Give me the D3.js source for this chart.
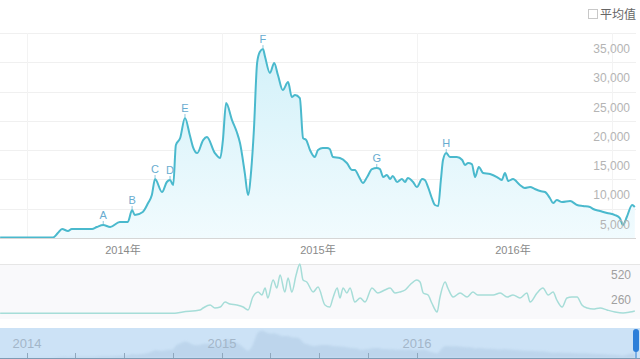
<!DOCTYPE html>
<html>
<head>
<meta charset="utf-8">
<script src="https://cdn.jsdelivr.net/npm/d3@7"></script>
<style>
	body { margin: 0; background: #fff; }
	svg { display: block; font-family: "Liberation Sans", "Noto Sans CJK SC", sans-serif; }
</style>
</head>
<body>
<svg id="canvas" width="640" height="359"></svg>
<script>

// search index (main chart)
var indexDates = ["2013-05-16","2013-08-23","2013-09-01","2013-09-09","2013-09-20","2013-09-27","2013-11-04","2013-11-13","2013-11-25","2013-12-08","2013-12-26",
	"2014-01-10","2014-01-18","2014-01-23","2014-02-07","2014-02-17","2014-02-24","2014-03-02","2014-03-15","2014-03-24","2014-03-30","2014-04-05","2014-04-10","2014-04-18","2014-04-27",
	"2014-05-06","2014-05-12","2014-05-20","2014-05-31","2014-06-07","2014-06-22","2014-07-02","2014-07-07","2014-07-13","2014-07-24","2014-08-02","2014-08-08","2014-08-17","2014-08-23","2014-08-29",
	"2014-09-03","2014-09-09","2014-09-14","2014-09-20","2014-09-24","2014-10-03","2014-10-11","2014-10-18","2014-10-27","2014-11-06","2014-11-13","2014-11-19","2014-11-28","2014-12-04","2014-12-10","2014-12-17","2014-12-26",
	"2015-01-01","2015-01-10","2015-01-18","2015-01-23","2015-01-29","2015-02-11","2015-02-24","2015-03-06","2015-03-11","2015-03-19","2015-03-26","2015-04-03","2015-04-12","2015-04-21","2015-04-27",
	"2015-05-03","2015-05-10","2015-05-16","2015-05-21","2015-05-29","2015-06-07","2015-06-13","2015-06-18","2015-06-28","2015-07-05","2015-07-15","2015-07-20","2015-07-26","2015-08-02","2015-08-08","2015-08-14","2015-08-19","2015-08-23","2015-08-29",
	"2015-09-05","2015-09-18","2015-09-28","2015-10-03","2015-10-09","2015-10-16","2015-10-22","2015-10-29","2015-11-06","2015-11-19","2015-12-02","2015-12-11","2015-12-17","2015-12-23",
	"2016-01-01","2016-01-14","2016-01-23","2016-02-02","2016-02-11","2016-02-21","2016-03-01","2016-03-10","2016-03-16","2016-03-23","2016-04-02","2016-04-17","2016-04-30","2016-05-11","2016-05-24","2016-05-30",
	"2016-06-12","2016-06-25","2016-07-10","2016-07-19","2016-07-25","2016-08-01","2016-08-11","2016-08-16"];
var indexValues = [100,100,850,1540,1190,1540,1540,1880,2220,1880,2730,
	2730,4780,3920,4440,5970,7340,10070,7850,9560,9900,9040,15870,17070,20480,
	17580,15530,14500,16720,17240,14500,13650,16720,23040,20140,18090,16210,11090,7340,11600,
	18430,29860,31740,32250,30890,28160,29860,27820,25260,26620,24060,24400,23890,17070,16720,15020,13820,
	15020,15360,15360,15190,13820,13650,12800,11600,11600,10410,9390,10410,11770,11950,11770,
	10410,10750,10070,10580,9560,10070,9560,10240,9560,8700,10070,9900,8700,6830,5630,5460,9900,13310,14500,
	13820,13820,13310,12460,12800,12630,10410,12120,11090,10920,10410,9900,11090,9730,
	10070,9040,8530,8700,8360,8020,7850,6830,5970,6480,6140,6310,5630,5460,5290,4950,
	4610,4270,3920,3410,2220,3580,5630,5290];

// media index (lower chart)
var mediaDates = ["2013-05-16","2014-04-08","2014-04-23","2014-05-25","2014-05-31","2014-06-13","2014-06-22","2014-07-02","2014-07-11","2014-07-20","2014-08-02","2014-08-14","2014-08-23",
	"2014-09-01","2014-09-11","2014-09-18","2014-09-24","2014-09-29","2014-10-09","2014-10-16","2014-10-22","2014-10-31","2014-11-06","2014-11-13","2014-11-21","2014-11-28","2014-12-04","2014-12-11","2014-12-23",
	"2015-01-01","2015-01-14","2015-01-23","2015-01-29","2015-02-06","2015-02-11","2015-02-17","2015-02-24","2015-03-02","2015-03-11","2015-03-21","2015-03-30","2015-04-12","2015-04-23",
	"2015-05-06","2015-05-16","2015-05-25","2015-06-03","2015-06-13","2015-06-22","2015-07-05","2015-07-11","2015-07-17","2015-07-26","2015-08-02","2015-08-12","2015-08-17","2015-08-27",
	"2015-09-01","2015-09-11","2015-09-24","2015-10-07","2015-10-18","2015-10-27","2015-11-10","2015-11-25","2015-12-08","2015-12-21",
	"2016-01-01","2016-01-14","2016-01-27","2016-02-02","2016-02-15","2016-02-26","2016-03-07","2016-03-16","2016-03-23","2016-04-02","2016-04-11","2016-04-20","2016-04-30",
	"2016-05-09","2016-05-19","2016-05-30","2016-06-12","2016-06-25","2016-07-10","2016-07-25","2016-08-07","2016-08-16"];
var mediaValues = [122,122,135,156,177,208,177,187,239,218,208,187,156,
	291,343,312,385,281,468,385,520,343,489,343,520,634,468,447,343,
	395,208,187,281,385,281,385,333,385,239,281,239,385,333,
	364,385,333,343,364,416,468,447,333,312,229,135,281,447,
	385,291,333,291,343,312,312,312,333,291,
	312,281,333,239,333,385,312,343,260,187,281,291,291,
	208,177,166,177,156,135,125,135,146];

var markLetters = ["A","B","C","D","E","F","G","H"];
var markDates = ["2013-11-25","2014-01-18","2014-03-02","2014-03-30","2014-04-27","2014-09-20","2015-04-21","2015-08-29"];

var yTicks = [5000, 10000, 15000, 20000, 25000, 30000, 35000];
var mediaTicks = [260, 520];
var yearTicks = ["2014-01-01", "2015-01-01", "2016-01-01"];
var gridDates = ["2013-07-01", "2014-07-01", "2015-07-01", "2016-07-01"];

var parse = d3.timeParse("%Y-%m-%d");

var indexData = indexDates.map(function(d, i) { return {date: parse(d), value: indexValues[i]}; });
var mediaData = mediaDates.map(function(d, i) { return {date: parse(d), value: mediaValues[i]}; });

var svg = d3.select("#canvas");

var x = d3.scaleTime()
	.domain([parse("2014-01-01"), parse("2016-01-01")])
	.range([123, 513]);

var y = d3.scaleLinear().domain([0, 35000]).range([238, 33]);
var y2 = d3.scaleLinear().domain([0, 520]).range([325, 275]);

var defs = svg.append("defs");
var grad = defs.append("linearGradient")
	.attr("id", "fill")
	.attr("x1", 0).attr("y1", 0).attr("x2", 0).attr("y2", 1);
grad.append("stop").attr("offset", "0%").attr("stop-color", "#d3f1f9");
grad.append("stop").attr("offset", "100%").attr("stop-color", "#f1fbfe");

defs.append("clipPath").attr("id", "plot")
	.append("rect").attr("x", 0).attr("y", 0).attr("width", 636).attr("height", 238);

defs.append("filter").attr("id", "soft")
	.append("feGaussianBlur").attr("stdDeviation", 1.2);

// legend checkbox
svg.append("rect")
	.attr("x", 588.5).attr("y", 9.5).attr("width", 9).attr("height", 9)
	.attr("fill", "#fff").attr("stroke", "#c8c8c8");
svg.append("text")
	.attr("x", 600).attr("y", 19)
	.style("font-size", "12px")
	.style("font-family", "'Noto Sans CJK SC', sans-serif")
	.attr("fill", "#666")
	.text("平均值");

// grid
svg.selectAll(".hgrid")
	.data(yTicks)
	.enter().append("line")
	.attr("class", "hgrid")
	.attr("x1", 0).attr("x2", 636)
	.attr("y1", function(d) { return Math.round(y(d)) + 0.5; })
	.attr("y2", function(d) { return Math.round(y(d)) + 0.5; })
	.attr("stroke", "#f0f0f0");

svg.selectAll(".vgrid")
	.data(gridDates)
	.enter().append("line")
	.attr("class", "vgrid")
	.attr("x1", function(d) { return Math.round(x(parse(d))) + 2.5; })
	.attr("x2", function(d) { return Math.round(x(parse(d))) + 2.5; })
	.attr("y1", y(35000)).attr("y2", 238)
	.attr("stroke", "#f3f3f3");

// area + line
var area = d3.area()
	.x(function(d) { return x(d.date); })
	.y0(238)
	.y1(function(d) { return y(d.value); })
	.curve(d3.curveMonotoneX);

var line = d3.line()
	.x(function(d) { return x(d.date); })
	.y(function(d) { return y(d.value); })
	.curve(d3.curveMonotoneX);

var plot = svg.append("g").attr("clip-path", "url(#plot)");

plot.append("path")
	.datum(indexData)
	.attr("d", area)
	.attr("fill", "url(#fill)");

svg.append("line")
	.attr("x1", 0).attr("x2", 636)
	.attr("y1", 238.5).attr("y2", 238.5)
	.attr("stroke", "#d6d6d6");

plot.append("path")
	.datum(indexData)
	.attr("d", line)
	.attr("fill", "none")
	.attr("stroke", "#4ab9cd")
	.attr("stroke-width", 2)
	.attr("stroke-linejoin", "round");

// y labels sit just below their grid lines
svg.selectAll(".ylabel")
	.data(yTicks)
	.enter().append("text")
	.attr("class", "ylabel")
	.attr("x", 630)
	.attr("y", function(d) { return y(d) + 20; })
	.attr("text-anchor", "end")
	.style("font-size", "12px")
	.attr("fill", "#b4b4b4")
	.text(d3.format(","));

// x labels
svg.selectAll(".xlabel")
	.data(yearTicks)
	.enter().append("text")
	.attr("class", "xlabel")
	.attr("x", function(d) { return x(parse(d)); })
	.attr("y", 254)
	.attr("text-anchor", "middle")
	.style("font-size", "11px")
	.attr("fill", "#8a8a8a")
	.text(function(d) { return d.slice(0, 4) + "年"; });

// event markers
var marks = svg.selectAll(".mark")
	.data(markLetters)
	.enter().append("g")
	.attr("class", "mark")
	.attr("transform", function(d, i) {
		var dt = parse(markDates[i]);
		var v = indexData.find(function(p) { return +p.date == +dt; }).value;
		return "translate(" + x(dt) + "," + y(v) + ")";
	});

marks.append("line")
	.attr("x1", 0).attr("x2", 0)
	.attr("y1", -1).attr("y2", -4)
	.attr("stroke", "#8cc6dc");

marks.append("text")
	.attr("y", -6)
	.attr("text-anchor", "middle")
	.style("font-size", "11px")
	.attr("fill", "#68acd0")
	.text(function(d) { return d; });

// media chart
svg.append("rect")
	.attr("x", 0).attr("y", 264).attr("width", 640).attr("height", 55)
	.attr("fill", "#f9f9fb");
svg.append("line")
	.attr("x1", 0).attr("x2", 640)
	.attr("y1", 264.5).attr("y2", 264.5)
	.attr("stroke", "#e6e6e6");

svg.append("path")
	.datum(mediaData)
	.attr("d", d3.line()
		.x(function(d) { return x(d.date); })
		.y(function(d) { return y2(d.value); })
		.curve(d3.curveMonotoneX))
	.attr("fill", "none")
	.attr("stroke", "#a6ddd8")
	.attr("stroke-width", 1.5);

svg.selectAll(".mlabel")
	.data(mediaTicks)
	.enter().append("text")
	.attr("class", "mlabel")
	.attr("x", 631)
	.attr("y", function(d) { return y2(d) + 4; })
	.attr("text-anchor", "end")
	.style("font-size", "12px")
	.attr("fill", "#a0a0a0")
	.text(function(d) { return d; });

// data zoom slider
var sx = d3.scaleTime()
	.domain([parse("2014-01-01"), parse("2016-01-01")])
	.range([27, 417]);

var sy = d3.scaleLinear().domain([0, 33000]).range([358, 330]);

svg.append("rect")
	.attr("x", 0).attr("y", 328).attr("width", 640).attr("height", 31)
	.attr("fill", "#cce2f6");

svg.append("path")
	.datum(indexData)
	.attr("d", d3.area()
		.x(function(d) { return x(d.date); })
		.y0(358)
		.y1(function(d) { return sy(d.value); })
		.curve(d3.curveBasis))
	.attr("fill", "#b7d0e8")
	.attr("opacity", 0.7)
	.attr("filter", "url(#soft)");

svg.selectAll(".slabel")
	.data(yearTicks)
	.enter().append("text")
	.attr("class", "slabel")
	.attr("x", function(d) { return sx(parse(d)); })
	.attr("y", 348)
	.attr("text-anchor", "middle")
	.style("font-size", "13px")
	.attr("fill", "#a3b6c9")
	.text(function(d) { return d.slice(0, 4); });

svg.selectAll(".stick")
	.data(sx.ticks(d3.timeMonth.every(3)).filter(function(d) { return sx(d) < 636; }))
	.enter().append("line")
	.attr("class", "stick")
	.attr("x1", function(d) { return Math.round(sx(d)) + 0.5; })
	.attr("x2", function(d) { return Math.round(sx(d)) + 0.5; })
	.attr("y1", 353).attr("y2", 358)
	.attr("stroke", "#8fa7bd");

svg.append("line")
	.attr("x1", 0).attr("x2", 640)
	.attr("y1", 358.5).attr("y2", 358.5)
	.attr("stroke", "#7f9bb4");

svg.append("rect")
	.attr("x", 633).attr("y", 329).attr("width", 6).attr("height", 23)
	.attr("rx", 3)
	.attr("fill", "#2d7fd9");
svg.append("line")
	.attr("x1", 636).attr("x2", 636)
	.attr("y1", 350).attr("y2", 358)
	.attr("stroke", "#2d7fd9");

</script>
</body>
</html>
